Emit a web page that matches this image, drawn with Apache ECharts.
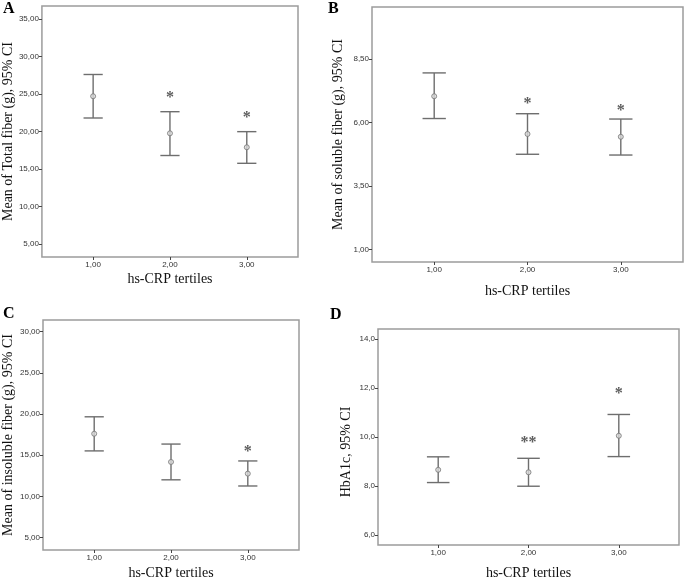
<!DOCTYPE html>
<html><head><meta charset="utf-8">
<script src="https://cdn.jsdelivr.net/npm/echarts@6/dist/echarts.min.js"></script>
<style>html,body{margin:0;padding:0;background:#fff}#c{width:685px;height:581px}</style>
</head><body><div id="c"></div>
<script>
// ---- data ----
const tertiles = [1, 2, 3];

const totalMean  = [24.7, 19.76, 17.9];
const totalLower = [21.8, 16.8, 15.76];
const totalUpper = [27.6, 22.64, 19.98];
const totalStars = ['', '*', '*'];
const totalStarY = [null, 25.0, 22.3];
const totalTicks = [5, 10, 15, 20, 25, 30, 35];

const solMean  = [7.04, 5.55, 5.44];
const solLower = [6.16, 4.75, 4.72];
const solUpper = [7.96, 6.35, 6.14];
const solStars = ['', '*', '*'];
const solStarY = [null, 6.88, 6.63];
const solTicks = [1, 3.5, 6, 8.5];

const insMean  = [17.61, 14.19, 12.77];
const insLower = [15.53, 12.02, 11.27];
const insUpper = [19.67, 16.36, 14.31];
const insStars = ['', '', '*'];
const insStarY = [null, null, 15.9];
const insTicks = [5, 10, 15, 20, 25, 30];

const hbaMean  = [8.66, 8.56, 10.05];
const hbaLower = [8.14, 7.99, 9.2];
const hbaUpper = [9.19, 9.13, 10.92];
const hbaStars = ['', '**', '*'];
const hbaStarY = [null, 9.93, 11.94];
const hbaTicks = [6, 8, 10, 12, 14];

const panels = [
  {letter:'A', title:'Mean of Total fiber (g), 95% CI', mean:totalMean, lo:totalLower, hi:totalUpper, stars:totalStars, starY:totalStarY, ticks:totalTicks, dec:2,
   grid:{left:38, top:6, width:260, height:251}, ymin:3.27, ymax:36.73, nameGap:25, xGap:3, namePad:[0,0,0,0], letterPos:[3,1]},
  {letter:'B', title:'Mean of soluble fiber (g), 95% CI', mean:solMean, lo:solLower, hi:solUpper, stars:solStars, starY:solStarY, ticks:solTicks, dec:2,
   grid:{left:372, top:7, width:311, height:255}, ymin:0.50, ymax:10.56, nameGap:27, xGap:10, namePad:[0,0,0,0], letterPos:[328,1]},
  {letter:'C', title:'Mean of insoluble fiber (g), 95% CI', mean:insMean, lo:insLower, hi:insUpper, stars:insStars, starY:insStarY, ticks:insTicks, dec:2,
   grid:{left:42, top:320, width:257, height:236}, ymin:3.50, ymax:31.42, nameGap:28, xGap:4, namePad:[0,0,0,0], letterPos:[3,306]},
  {letter:'D', title:'HbA1c, 95% CI', mean:hbaMean, lo:hbaLower, hi:hbaUpper, stars:hbaStars, starY:hbaStarY, ticks:hbaTicks, dec:1,
   grid:{left:378, top:329, width:301, height:224}, ymin:5.59, ymax:14.41, nameGap:25, xGap:9, namePad:[0,30,0,0], letterPos:[330,307]}
];

const serif = "'Liberation Serif', 'Times New Roman', serif";
const narrow = "'Liberation Sans Narrow', 'Liberation Sans', Arial, sans-serif";

const grids = [], xAxes = [], yAxes = [], series = [], graphics = [];
panels.forEach((p, i) => {
  grids.push(Object.assign({show:true, borderColor:'#9c9c9c', borderWidth:1.5, backgroundColor:'#fff'}, p.grid));
  xAxes.push({
    type:'value', gridIndex:i, min:1/3, max:11/3,
    name:'hs-CRP tertiles', nameLocation:'middle', nameGap:p.xGap + 12,
    nameTextStyle:{fontFamily:serif, fontSize:14, color:'#111'},
    axisLine:{show:false}, splitLine:{show:false},
    axisTick:{show:true, length:3, customValues:tertiles, lineStyle:{color:'#444'}},
    axisLabel:{show:true, customValues:tertiles, fontSize:8, fontFamily:narrow, color:'#333', margin:4,
      formatter:v => v.toFixed(2).replace('.', ',')}
  });
  yAxes.push({
    type:'value', gridIndex:i, min:p.ymin, max:p.ymax,
    name:p.title, nameLocation:'middle', nameGap:p.nameGap, nameRotate:90,
    nameTextStyle:{fontFamily:serif, fontSize:14, color:'#111', padding:p.namePad},
    axisLine:{show:false}, splitLine:{show:false},
    axisTick:{show:true, length:3, customValues:p.ticks, lineStyle:{color:'#444'}},
    axisLabel:{show:true, customValues:p.ticks, fontSize:8, fontFamily:narrow, color:'#333', margin:3,
      formatter:v => v.toFixed(p.dec).replace('.', ',')}
  });
  series.push({
    type:'custom', xAxisIndex:i, yAxisIndex:i, silent:true,
    data: tertiles.map((t, k) => [t, p.lo[k], p.hi[k]]),
    renderItem: (params, api) => {
      const x = api.value(0), lo = api.value(1), hi = api.value(2);
      const top = api.coord([x, hi]), bot = api.coord([x, lo]);
      const l = api.coord([x - 0.125, hi])[0], r = api.coord([x + 0.125, hi])[0];
      const st = {stroke:'#6e6e6e', lineWidth:1.4};
      return {type:'group', children:[
        {type:'line', shape:{x1:top[0], y1:top[1], x2:bot[0], y2:bot[1]}, style:st},
        {type:'line', shape:{x1:l, y1:top[1], x2:r, y2:top[1]}, style:st},
        {type:'line', shape:{x1:l, y1:bot[1], x2:r, y2:bot[1]}, style:st}
      ]};
    }
  });
  series.push({
    type:'scatter', xAxisIndex:i, yAxisIndex:i, silent:true,
    symbol:'circle', symbolSize:5,
    itemStyle:{color:'#d8d8d8', borderColor:'#777', borderWidth:1},
    data: tertiles.map((t, k) => [t, p.mean[k]]), z:5
  });
  series.push({
    type:'scatter', xAxisIndex:i, yAxisIndex:i, silent:true,
    symbolSize:0,
    data: tertiles.map((t, k) => ({value:[t, p.starY[k]], label:{formatter:p.stars[k]}})).filter(d => d.value[1] !== null),
    label:{show:true, position:'inside', fontFamily:serif, fontSize:16, fontWeight:'bold', color:'#333', offset:[0, 4]}
  });
  graphics.push({type:'text', left:p.letterPos[0], top:p.letterPos[1],
    style:{text:p.letter, font:"bold 16px 'Liberation Serif', serif", fill:'#000'}});
});

const chart = echarts.init(document.getElementById('c'), null, {renderer:'canvas'});
chart.setOption({animation:false, backgroundColor:'#fff', grid:grids, xAxis:xAxes, yAxis:yAxes, series:series, graphic:graphics});
</script></body></html>
